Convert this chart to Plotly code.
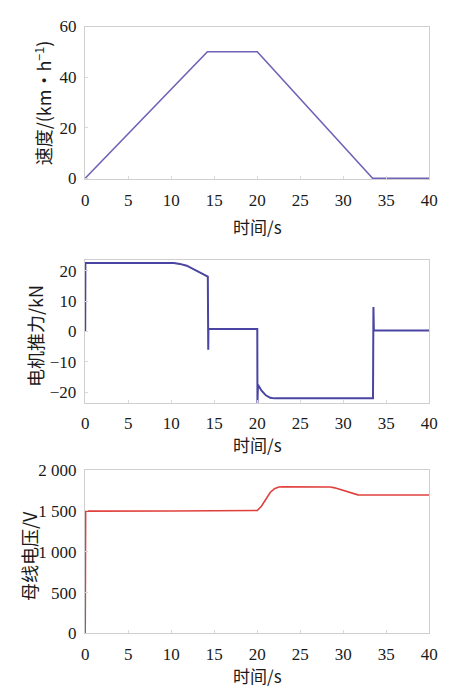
import plotly.graph_objects as go

# ---- data ----
t_speed = [0, 14.2, 20.0, 33.4, 40]
speed = [0, 50, 50, 0, 0]

t_force = [0, 0.02, 10.3, 11.0, 11.8, 14.25, 14.3, 14.32, 14.4, 20.0, 20.02, 20.08,
           20.5, 21.0, 21.5, 22.0, 33.45, 33.5, 33.55, 40]
force = [0, 22.5, 22.5, 22.2, 21.6, 18.0, -6.0, 1.0, 0.8, 0.8, -23.5, -17.5,
         -19.5, -21.0, -21.8, -22.0, -22.0, 8.0, 0.3, 0.3]

t_volt = [0, 0.05, 10, 20, 20.5, 21, 21.5, 22, 22.5, 23, 28, 28.5, 29, 30, 31, 31.7, 32, 40]
volt = [0, 1497, 1498, 1505, 1560, 1650, 1725, 1772, 1793, 1795, 1795, 1792, 1782,
        1752, 1715, 1696, 1695, 1695]

x_ticks = [0, 5, 10, 15, 20, 25, 30, 35, 40]
speed_ticks = [0, 20, 40, 60]
force_ticks = [-20, -10, 0, 10, 20]
force_ticktext = ["\u221220", "\u221210", "0", "10", "20"]
volt_ticks = [0, 500, 1000, 1500, 2000]
volt_ticktext = ["0", "500", "1 000", "1 500", "2 000"]

W, H = 450, 695
def py(p):
    return 1 - p / H

x_dom = [83 / W, 437 / W]
dom1 = [py(175), py(18)]
dom2 = [py(405), py(258)]
dom3 = [py(642), py(474)]

fig = go.Figure()
fig.add_trace(go.Scatter(x=t_speed, y=speed, mode="lines",
                         line=dict(color="#6f62b8", width=1.6), xaxis="x", yaxis="y"))
fig.add_trace(go.Scatter(x=t_force, y=force, mode="lines",
                         line=dict(color="#4a44a2", width=2), xaxis="x2", yaxis="y2"))
fig.add_trace(go.Scatter(x=t_volt, y=volt, mode="lines",
                         line=dict(color="#e0403c", width=1.6), xaxis="x3", yaxis="y3"))

tickfont = dict(family="Liberation Serif, serif", size=17, color="#1a1a1a")
frame = dict(showline=True, mirror=True, linecolor="#cfcfcf", linewidth=1,
             showgrid=False, zeroline=False, ticks="inside", ticklen=3,
             tickcolor="#d8d8d8", tickfont=tickfont)

xcommon = dict(range=[-0.05, 40], tickvals=x_ticks, domain=x_dom,
               ticklabelstandoff=5, **frame)

fig.update_layout(
    width=W, height=H, margin=dict(l=0, r=0, t=0, b=0),
    paper_bgcolor="white", plot_bgcolor="white", showlegend=False,
    xaxis=dict(anchor="y", **xcommon),
    xaxis2=dict(anchor="y2", **xcommon),
    xaxis3=dict(anchor="y3", **xcommon),
    yaxis=dict(anchor="x", domain=dom1, range=[-0.4, 60], tickvals=speed_ticks,
               ticklabelstandoff=4, **frame),
    yaxis2=dict(anchor="x2", domain=dom2, range=[-23.5, 23.5], tickvals=force_ticks,
                ticktext=force_ticktext, ticklabelstandoff=4, **frame),
    yaxis3=dict(anchor="x3", domain=dom3, range=[0, 2000], tickvals=volt_ticks,
                ticktext=volt_ticktext, ticklabelstandoff=4, **frame),
)

tfont = dict(family="Noto Sans CJK SC, sans-serif", size=18, color="#1a1a1a")
xtfont = dict(family="Noto Sans CJK SC, sans-serif", size=17, color="#1a1a1a")
ann = []
# x-axis titles
for yc in [224, 448, 685]:
    ann.append(dict(text="时间/s", x=(83 + 437) / 2 / W, y=py(yc), xref="paper", yref="paper",
                    xanchor="center", yanchor="middle", showarrow=False, font=xtfont))
# y-axis titles
ann.append(dict(text="速度/(km·h<sup>−1</sup>)", x=40 / W, y=py(96), xref="paper", yref="paper",
                xanchor="center", yanchor="middle", showarrow=False, textangle=-90, font=tfont))
ann.append(dict(text="电机推力/kN", x=32 / W, y=py(336), xref="paper", yref="paper",
                xanchor="center", yanchor="middle", showarrow=False, textangle=-90, font=tfont))
ann.append(dict(text="母线电压/V", x=25 / W, y=py(562), xref="paper", yref="paper",
                xanchor="center", yanchor="middle", showarrow=False, textangle=-90, font=tfont))
fig.update_layout(annotations=ann)

fig.write_html("out.html")
